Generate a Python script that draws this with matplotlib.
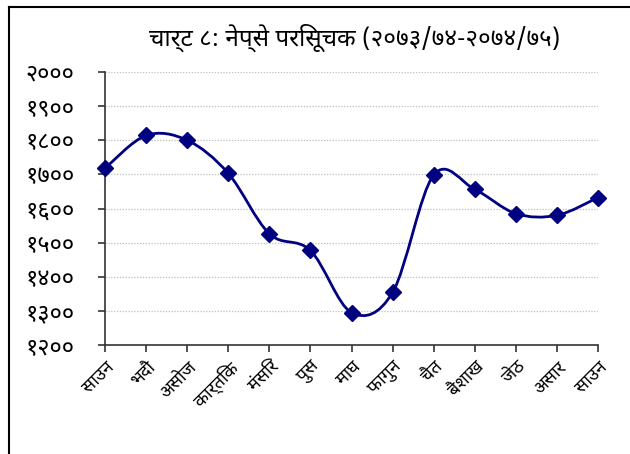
import matplotlib
matplotlib.use("Agg")
import matplotlib.pyplot as plt
from matplotlib import font_manager
from matplotlib.path import Path
from matplotlib.patches import PathPatch
from matplotlib.lines import Line2D

# data
months = ['साउन', 'भदौ', 'असोज', 'कार्तिक', 'मंसिर', 'पुस', 'माघ',
          'फागुन', 'चैत', 'बैशाख', 'जेठ', 'असार', 'साउन']
nepse = [1718, 1814, 1800, 1703, 1526, 1477, 1295, 1354, 1698, 1656, 1585, 1580, 1632]
yticks = [1200, 1300, 1400, 1500, 1600, 1700, 1800, 1900, 2000]
ytick_labels = ['१२००', '१३००', '१४००', '१५००', '१६००', '१७००', '१८००', '१९००', '२०००']
title = 'चार्ट ८: नेप्से परिसूचक (२०७३/७४-२०७४/७५)'

# pick a proportional devanagari font that is installed
installed = {f.name for f in font_manager.fontManager.ttflist}
deva = None
for name in ['Noto Sans Devanagari', 'FreeSans', 'Mukta', 'Hind', 'Anek Devanagari']:
    if name in installed:
        deva = name
        break
fams = [deva, 'DejaVu Sans'] if deva else ['DejaVu Sans']
plt.rcParams['font.family'] = fams

navy = '#000080'

fig = plt.figure(figsize=(6.3, 4.54), dpi=100)
ax = fig.add_axes([105 / 630, 1 - 345 / 454, 493 / 630, 273 / 454])

x = list(range(len(nepse)))

# smoothed line (excel style), cubic bezier through the points
verts = [(x[0], nepse[0])]
codes = [Path.MOVETO]
n = len(x)
for i in range(n - 1):
    p0 = (x[i - 1], nepse[i - 1]) if i > 0 else (x[i], nepse[i])
    p1 = (x[i], nepse[i])
    p2 = (x[i + 1], nepse[i + 1])
    p3 = (x[i + 2], nepse[i + 2]) if i + 2 < n else p2
    c1 = (p1[0] + (p2[0] - p0[0]) / 6, p1[1] + (p2[1] - p0[1]) / 6)
    c2 = (p2[0] - (p3[0] - p1[0]) / 6, p2[1] - (p3[1] - p1[1]) / 6)
    verts += [c1, c2, p2]
    codes += [Path.CURVE4] * 3
ax.add_patch(PathPatch(Path(verts, codes), facecolor='none', edgecolor=navy,
                       lw=2.0, zorder=3, clip_on=False))
ax.plot(x, nepse, linestyle='none', marker='D', markersize=8.5,
        color=navy, zorder=4, clip_on=False)

ax.set_xlim(0, 12)
ax.set_ylim(1200, 2000)
ax.set_yticks(yticks)
ax.set_yticklabels(ytick_labels, fontsize=17)
ax.set_xticks(x)
ax.set_xticklabels(months, fontsize=13, rotation=45, ha='right',
                   rotation_mode='anchor')
ax.tick_params(axis='both', direction='out', length=5, width=1.2,
               color='#333333', pad=4)
ax.tick_params(axis='y', pad=17)

for s in ['top', 'right']:
    ax.spines[s].set_visible(False)
for s in ['left', 'bottom']:
    ax.spines[s].set_color('#333333')
    ax.spines[s].set_linewidth(1.2)

for yv in yticks[1:]:
    ax.axhline(yv, color='#bdbdbd', lw=0.9, linestyle=(0, (1, 1.3)), zorder=1)

fig.text(355 / 630, 1 - 38 / 454, title, ha='center', va='center', fontsize=17.5)

# outer frame (top and left edges visible)
fig.add_artist(Line2D([9 / 630, 9 / 630], [0, 1 - 7 / 454], color='black',
                      lw=1.5, transform=fig.transFigure))
fig.add_artist(Line2D([9 / 630, 1], [1 - 7 / 454, 1 - 7 / 454], color='black',
                      lw=1.5, transform=fig.transFigure))

fig.savefig('out.png', dpi=100)
plt.close(fig)
